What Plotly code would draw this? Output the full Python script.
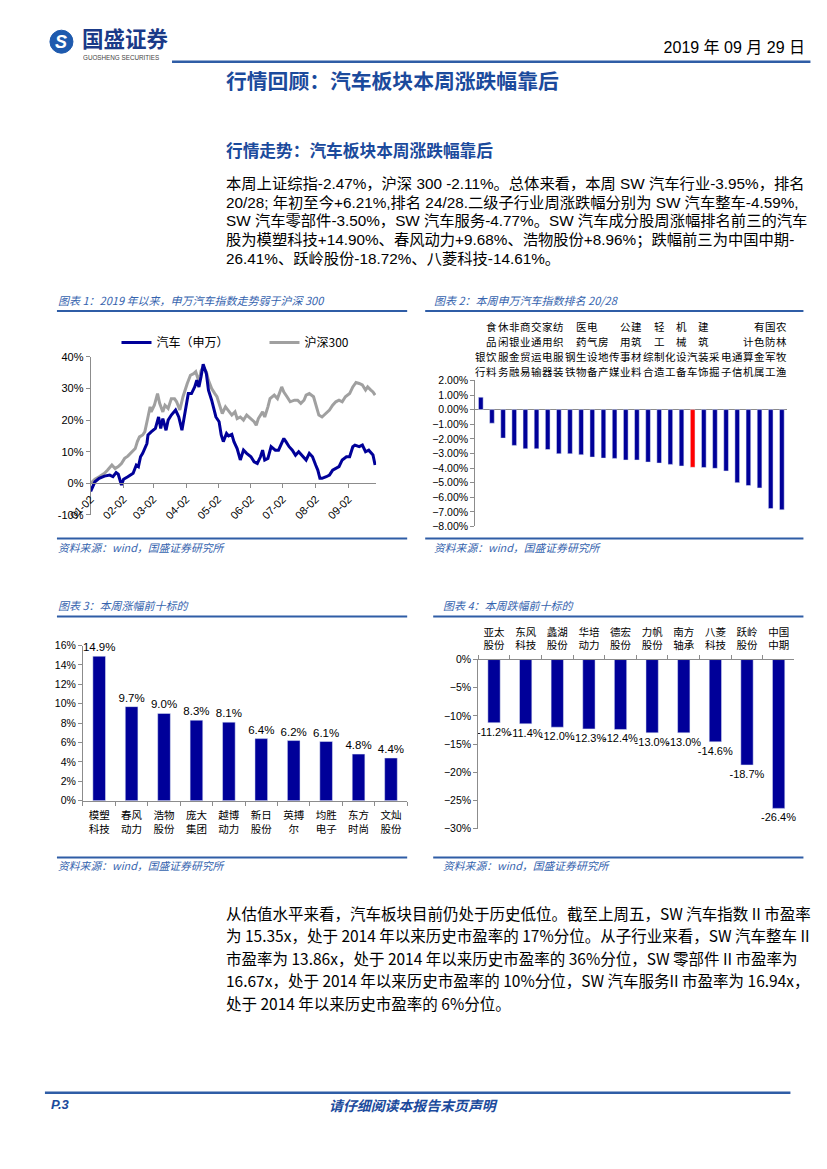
import plotly.graph_objects as go

# ---------------- data ----------------
auto_dates = ["2019-01-02","2019-01-06","2019-01-10","2019-01-15","2019-01-20","2019-01-23","2019-01-26","2019-01-28","2019-01-31",
              "2019-02-02","2019-02-06","2019-02-11","2019-02-14","2019-02-16","2019-02-18","2019-02-20","2019-02-24","2019-02-25","2019-02-28",
              "2019-03-04","2019-03-07","2019-03-09","2019-03-11","2019-03-14","2019-03-16","2019-03-19","2019-03-23","2019-03-26","2019-03-29",
              "2019-04-01","2019-04-04","2019-04-07","2019-04-10","2019-04-12","2019-04-14","2019-04-16","2019-04-18","2019-04-21","2019-04-23","2019-04-26","2019-04-28","2019-04-30",
              "2019-05-03","2019-05-05","2019-05-07","2019-05-10","2019-05-12","2019-05-15","2019-05-17","2019-05-20","2019-05-23","2019-05-26","2019-05-29",
              "2019-06-02","2019-06-05","2019-06-08","2019-06-11","2019-06-13","2019-06-15","2019-06-18","2019-06-21","2019-06-25","2019-06-28",
              "2019-07-01","2019-07-03","2019-07-05","2019-07-08","2019-07-11","2019-07-14","2019-07-17","2019-07-21","2019-07-24","2019-07-27","2019-07-30",
              "2019-08-02","2019-08-04","2019-08-06","2019-08-08","2019-08-12","2019-08-15","2019-08-18","2019-08-21","2019-08-24","2019-08-27","2019-08-31",
              "2019-09-03","2019-09-06","2019-09-08","2019-09-12","2019-09-15","2019-09-18","2019-09-21","2019-09-24","2019-09-25","2019-09-27"]
auto_vals = [-2.5, 0.5, 1.6, 2.3, 2.6, 2.1, 3.4, 2.9, -0.5, 1.3, 2.1, 3.2, 5.8, 5.3, 8.4, 9.5, 12.6, 15.3, 16.3, 17.4,
             21.0, 17.4, 20.5, 16.8, 20.0, 21.6, 23.2, 21.0, 16.8, 22.0, 28.4, 28.4, 30.5, 32.6, 30.5, 33.7, 37.7, 34.7, 29.5, 26.3,
             23.7, 21.0, 19.5, 15.3, 13.2, 15.8,
             15.0, 15.5, 13.2, 11.0, 7.4, 10.5, 9.5, 8.4, 6.8, 6.3, 8.4, 10.5, 7.4, 7.9, 11.6, 10.5, 10.5, 12.6, 14.2, 13.2,
             11.6, 10.5, 8.9, 10.0, 8.4, 7.4, 9.5, 8.4, 5.8, 4.2, 1.6, 1.6, 2.1, 2.6, 4.2, 4.7, 5.3, 7.4, 8.4, 8.4,
             11.6, 12.1, 11.6, 12.1, 10.0, 10.5, 9.5, 9.0, 5.8]

hs_dates = ["2019-01-02","2019-01-06","2019-01-10","2019-01-15","2019-01-18","2019-01-22","2019-01-25","2019-01-28","2019-01-31",
            "2019-02-03","2019-02-06","2019-02-10","2019-02-13","2019-02-15","2019-02-17","2019-02-20","2019-02-22","2019-02-25","2019-02-27","2019-02-28",
            "2019-03-03","2019-03-06","2019-03-08","2019-03-11","2019-03-13","2019-03-16","2019-03-19","2019-03-22","2019-03-24","2019-03-27","2019-03-30",
            "2019-04-03","2019-04-06","2019-04-09","2019-04-11","2019-04-14","2019-04-16","2019-04-18","2019-04-21","2019-04-23","2019-04-26","2019-04-29",
            "2019-05-01","2019-05-04","2019-05-06","2019-05-09","2019-05-12","2019-05-15","2019-05-18","2019-05-20","2019-05-23","2019-05-26","2019-05-29",
            "2019-06-02","2019-06-05","2019-06-07","2019-06-09","2019-06-13","2019-06-15","2019-06-18","2019-06-20","2019-06-24","2019-06-27",
            "2019-07-01","2019-07-03","2019-07-06","2019-07-09","2019-07-13","2019-07-16","2019-07-19","2019-07-22","2019-07-24","2019-07-27","2019-07-31",
            "2019-08-02","2019-08-05","2019-08-08","2019-08-12","2019-08-15","2019-08-18","2019-08-21","2019-08-24","2019-08-27","2019-08-30",
            "2019-09-03","2019-09-06","2019-09-09","2019-09-12","2019-09-15","2019-09-18","2019-09-20","2019-09-23","2019-09-25","2019-09-27"]
hs_vals = [0.0, 1.3, 2.1, 3.2, 4.2, 5.8, 4.7, 5.3, 6.3, 7.9, 8.6, 10.0, 11.0, 13.2, 14.7, 15.3, 16.3, 21.0, 24.2, 22.6,
           24.7, 28.4, 25.3, 22.6, 24.7, 23.7, 26.8, 26.8, 25.8, 23.2, 27.4, 31.6, 34.2, 34.7, 35.3, 32.1, 35.6, 36.8, 35.3, 32.6,
           30.0, 28.4, 27.4, 24.2, 22.1, 24.2,
           23.0, 21.6, 22.6, 20.5, 21.0, 20.0, 21.6, 20.5, 19.5, 18.4, 20.5, 22.6, 21.0, 24.2, 26.8, 27.9, 26.8, 30.5, 28.9, 27.4,
           25.8, 26.3, 26.3, 25.3, 26.3, 27.9, 28.4, 27.4, 24.7, 21.6, 21.0, 22.1, 23.2, 24.7, 25.8, 26.3, 25.8, 27.4, 28.4, 30.5,
           31.9, 31.6, 31.1, 29.5, 30.5, 29.5, 28.9, 27.9]

line_tick_dates = ["2019-01-02","2019-02-02","2019-03-02","2019-04-02","2019-05-02","2019-06-02","2019-07-02","2019-08-02","2019-09-02"]
line_tick_text = ["01-02","02-02","03-02","04-02","05-02","06-02","07-02","08-02","09-02"]
line_y_ticks = [-10, 0, 10, 20, 30, 40]

ind_names = ["银行","食品饮料","休闲服务","非银金融","商业贸易","交通运输","家用电器","纺织服装","钢铁","医药生物",
             "电气设备","房地产","传媒","公用事业","建筑材料","综合","轻工制造","化工","机械设备","汽车",
             "建筑装饰","采掘","电子","通信","计算机","有色金属","国防军工","农林牧渔"]
ind_vals = [0.85, -0.93, -1.95, -2.45, -2.68, -2.68, -2.73, -3.02, -3.02, -3.09,
            -3.25, -3.32, -3.34, -3.45, -3.45, -3.59, -3.66, -3.75, -3.86, -3.95,
            -3.96, -4.02, -4.20, -5.00, -5.20, -5.36, -6.77, -6.86]
highlight = "汽车"

up_names = ["模塑科技","春风动力","浩物股份","庞大集团","越博动力","新日股份","英搏尔","均胜电子","东方时尚","文灿股份"]
up_vals = [14.9, 9.7, 9.0, 8.3, 8.1, 6.4, 6.2, 6.1, 4.8, 4.4]

down_names = ["亚太股份","东风科技","蠡湖股份","华培动力","德宏股份","力帆股份","南方轴承","八菱科技","跃岭股份","中国中期"]
down_vals = [-11.2, -11.4, -12.0, -12.3, -12.4, -13.0, -13.0, -14.6, -18.7, -26.4]

para1 = ["本周上证综指-2.47%，沪深 300 -2.11%。总体来看，本周 SW 汽车行业-3.95%，排名",
         "20/28; 年初至今+6.21%,排名 24/28.二级子行业周涨跌幅分别为 SW 汽车整车-4.59%,",
         "SW 汽车零部件-3.50%，SW 汽车服务-4.77%。SW 汽车成分股周涨幅排名前三的汽车",
         "股为模塑科技+14.90%、春风动力+9.68%、浩物股份+8.96%；跌幅前三为中国中期-",
         "26.41%、跃岭股份-18.72%、八菱科技-14.61%。"]
para2 = ["从估值水平来看，汽车板块目前仍处于历史低位。截至上周五，SW 汽车指数 II 市盈率",
         "为 15.35x，处于 2014 年以来历史市盈率的 17%分位。从子行业来看，SW 汽车整车 II",
         "市盈率为 13.86x，处于 2014 年以来历史市盈率的 36%分位，SW 零部件 II 市盈率为",
         "16.67x，处于 2014 年以来历史市盈率的 10%分位，SW 汽车服务II 市盈率为 16.94x，",
         "处于 2014 年以来历史市盈率的 6%分位。"]

# ---------------- page helpers: target picture pixels -> paper fraction ----------------
OFF = 8
FW, FH = 811, 1152
SX, CX = 0.971, 23.3     # observed picture mapping of page pixels
SY, CY = 0.989, 5.9
def X(p): return ((p - CX) / SX - OFF) / FW
def Y(p): return 1 - ((p - CY) / SY - OFF) / FH

CJK = "Noto Sans CJK SC"
SANS = "Liberation Sans, Noto Sans CJK SC"
NARROW = "Liberation Sans Narrow, Noto Sans CJK SC"
BLUE_T = "#1B4A9C"
BLUE_C = "#3563AE"
BLUE_L = "#2F5DA6"
NAVY = "#000099"
AX = "#8C8C8C"

annotations = []
shapes = []

def text(x, y, s, size, color="#000", family=SANS, weight="normal", style="normal", xanchor="left", width=None):
    d = dict(x=X(x), y=Y(y), xref="paper", yref="paper", text=s, showarrow=False,
             xanchor=xanchor, yanchor="middle", align=xanchor, borderpad=0,
             font=dict(size=size, color=color, family=family, weight=weight, style=style))
    if width:
        d["width"] = width
    annotations.append(d)

def hline(x0, x1, y, color=BLUE_L, width=2):
    shapes.append(dict(type="line", xref="paper", yref="paper", x0=X(x0), x1=X(x1), y0=Y(y), y1=Y(y),
                       line=dict(color=color, width=width)))

fig = go.Figure()

# ---- chart 1: lines ----
fig.add_trace(go.Scatter(x=hs_dates, y=hs_vals, mode="lines", name="沪深300", legendrank=2,
                         line=dict(color="#A0A0A0", width=3), xaxis="x", yaxis="y"))
fig.add_trace(go.Scatter(x=auto_dates, y=auto_vals, mode="lines", name="汽车（申万）", legendrank=1,
                         line=dict(color=NAVY, width=3), xaxis="x", yaxis="y"))

# ---- chart 2: industry ranking ----
ind_colors = ["#FF0000" if n == highlight else NAVY for n in ind_names]
fig.add_trace(go.Bar(x=ind_names, y=ind_vals, marker_color=ind_colors, width=0.42,
                     xaxis="x2", yaxis="y2", showlegend=False))
for i, n in enumerate(ind_names):
    for j, ch in enumerate(reversed(list(n))):
        annotations.append(dict(x=n, y=Y(371.5 - 15 * j), xref="x2", yref="paper", text=ch, showarrow=False,
                                xanchor="center", yanchor="middle",
                                font=dict(size=10.5, color="#000", family=CJK)))

# ---- chart 3: top gainers ----
fig.add_trace(go.Bar(x=up_names, y=up_vals, marker_color=NAVY, width=0.39,
                     text=[f"{v:.1f}%" for v in up_vals], textposition="outside", constraintext="none",
                     cliponaxis=False, textfont=dict(size=11.5, color="#000", family=SANS),
                     xaxis="x3", yaxis="y3", showlegend=False))

# ---- chart 4: top losers ----
fig.add_trace(go.Bar(x=down_names, y=down_vals, marker_color=NAVY, width=0.39,
                     text=[f"{v:.1f}%" for v in down_vals], textposition="outside", constraintext="none",
                     cliponaxis=False, textfont=dict(size=11, color="#000", family=SANS),
                     xaxis="x4", yaxis="y4", showlegend=False))

def two_line(n):
    return n[:2] + "<br>" + n[2:]

axis_common = dict(showgrid=False, zeroline=False, showline=True, linecolor=AX, linewidth=1,
                   ticks="outside", tickcolor=AX, ticklen=4, fixedrange=True)

fig.update_layout(
    width=FW, height=FH, autosize=False,
    margin=dict(l=0, r=0, t=0, b=0),
    paper_bgcolor="white", plot_bgcolor="white",
    showlegend=True,
    legend=dict(orientation="h", x=X(116.5), y=Y(342), xanchor="left", yanchor="middle",
                font=dict(size=12, family=CJK, color="#000"), itemwidth=30, entrywidth=103,
                bgcolor="rgba(0,0,0,0)", traceorder="normal"),
    xaxis=dict(axis_common, type="date", domain=[X(90.7), X(376)], range=["2019-01-02", "2019-09-28"],
               anchor="free", position=Y(483), tickvals=line_tick_dates, ticktext=line_tick_text,
               tickangle=-45, tickfont=dict(size=11, family=SANS, color="#000")),
    yaxis=dict(axis_common, domain=[Y(514.5), Y(356.5)], range=[-10, 40], tickvals=line_y_ticks,
               ticktext=[f"{v}%" for v in line_y_ticks], anchor="x",
               tickfont=dict(size=11, family=SANS, color="#000")),
    xaxis2=dict(domain=[X(475), X(787)], range=[-0.5, 27.5], anchor="y2", visible=False, fixedrange=True,
                type="category"),
    yaxis2=dict(axis_common, domain=[Y(526), Y(380)], range=[-8, 2], dtick=1, tick0=0, tickformat=".2f",
                ticksuffix="%", anchor="x2", zeroline=True, zerolinecolor=AX, zerolinewidth=1,
                tickfont=dict(size=10.5, family=SANS, color="#000")),
    xaxis3=dict(axis_common, domain=[X(83), X(407)], anchor="y3", type="category", tickson="boundaries",
                tickvals=up_names, ticktext=[two_line(n) for n in up_names], tickangle=0, ticklabelstandoff=5,
                tickfont=dict(size=10.5, family=CJK, color="#000")),
    yaxis3=dict(axis_common, domain=[Y(800), Y(645)], range=[0, 16], dtick=2, ticksuffix="%", anchor="x3",
                tickfont=dict(size=10.5, family=SANS, color="#000")),
    xaxis4=dict(axis_common, domain=[X(478), X(794)], anchor="y4", side="top", type="category",
                tickson="boundaries", tickvals=down_names, ticktext=[two_line(n) for n in down_names],
                tickangle=0, ticklabelstandoff=5, tickfont=dict(size=10.5, family=CJK, color="#000")),
    yaxis4=dict(axis_common, domain=[Y(828), Y(659)], range=[-30, 0], dtick=5, ticksuffix="%", anchor="x4",
                tickfont=dict(size=10.5, family=SANS, color="#000")),
)

# ---------------- page furniture ----------------
shapes.append(dict(type="circle", xref="paper", yref="paper", x0=X(50), x1=X(73), y0=Y(53), y1=Y(30),
                   fillcolor="#1E5AAE", line=dict(color="#1E5AAE", width=1)))
text(61.5, 41.5, "S", 18, "white", "Liberation Sans", "bold", "italic", "center")
text(81, 37, "国盛证券", 21.5, "#1A3A88", CJK, "bold", width=110)
text(82, 57.5, "GUOSHENG SECURITIES", 6.3, "#444", SANS, width=110)
text(806, 47.5, "2019 年 09 月 29 日", 16, "#000", SANS, xanchor="right", width=220)
hline(172, 810, 61.5, BLUE_L, 2.5)

text(225, 80, "行情回顾：汽车板块本周涨跌幅靠后", 20.8, BLUE_T, CJK, "bold", width=430)
text(225, 150, "行情走势：汽车板块本周涨跌幅靠后", 16.7, BLUE_T, CJK, "bold", width=380)
for i, s in enumerate(para1):
    text(225, 183 + 18.8 * i, s, 15.3, "#000", SANS, width=640)

text(57, 299.5, "图表 1：2019 年以来，申万汽车指数走势弱于沪深 300", 11, BLUE_C, CJK, style="italic", width=340)
text(433, 299.5, "图表 2：本周申万汽车指数排名 20/28", 11, BLUE_C, CJK, style="italic", width=340)
hline(57, 407, 310.7)
hline(425, 803, 310.7)
hline(57, 407, 538)
hline(425, 803, 538)
text(57, 546.5, "资料来源：wind，国盛证券研究所", 10.8, BLUE_C, CJK, style="italic", width=260)
text(433, 546.5, "资料来源：wind，国盛证券研究所", 10.8, BLUE_C, CJK, style="italic", width=260)

text(57, 604, "图表 3：本周涨幅前十标的", 11, BLUE_C, CJK, style="italic", width=260)
text(442, 604, "图表 4：本周跌幅前十标的", 11, BLUE_C, CJK, style="italic", width=260)
hline(57, 407, 616)
hline(433, 803, 616)
hline(57, 407, 856.7)
hline(433, 803, 856.7)
text(57, 864, "资料来源：wind，国盛证券研究所", 10.8, BLUE_C, CJK, style="italic", width=260)
text(442, 864, "资料来源：wind，国盛证券研究所", 10.8, BLUE_C, CJK, style="italic", width=260)

for i, s in enumerate(para2):
    text(225, 912 + 22.5 * i, s, 15.5, "#000", NARROW, width=640)

hline(45, 790, 1092, BLUE_L, 2.5)
text(50, 1104, "P.3", 13, BLUE_T, SANS, "bold", "italic", width=60)
text(413, 1104, "请仔细阅读本报告末页声明", 13.9, BLUE_T, CJK, "bold", "italic", "center")

fig.update_layout(annotations=annotations, shapes=shapes)
fig.write_html("out.html")
